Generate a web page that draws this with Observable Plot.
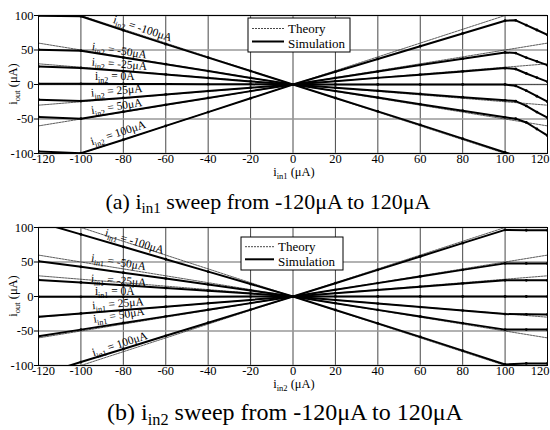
<!DOCTYPE html>
<html><head><meta charset="utf-8">
<script src="https://cdn.jsdelivr.net/npm/d3@7"></script>
<script src="https://cdn.jsdelivr.net/npm/@observablehq/plot@0.6"></script>
<style>
body{margin:0;background:#fff;}
#wrap{position:relative;width:550px;height:430px;overflow:hidden;font-family:"Liberation Serif","DejaVu Serif",serif;color:#000;}
.panel{position:absolute;left:0;}
.cap{position:absolute;white-space:nowrap;line-height:1;transform:translateX(-50%);font-family:"Liberation Serif","DejaVu Serif",serif;}
.cap .sb{position:relative;top:0.3em;font-size:0.68em;}
</style></head><body><div id="wrap"></div>
<script>
// ---------- data ----------
const xTicks = [-120,-100,-80,-60,-40,-20,0,20,40,60,80,100,120];
const yTicks = [-100,-50,0,50,100];
const theoryX = [-120, 120];
const theoryEnds = [[120,-120],[60,-60],[30,-30],[0,0],[-30,30],[-60,60],[-120,120]];
const params = [-100,-50,-25,0,25,50,100];
const paramText = ["-100μA","-50μA","-25μA","0A","25μA","50μA","100μA"];

// panel (a): i_in1 sweep, one curve per i_in2
const xA = [-120,-100,-80,-60,-40,-20,0,20,40,60,80,100,105,110,115,120];
const a_n100 = [99.5,99,78.5,58.5,39,19.5,0,-19.5,-39,-58.5,-78.5,-98.5,-103,-107,-111,-115];
const a_n50  = [50.5,49,39,29.5,19.5,9.5,0,-9.5,-19,-28.5,-38,-47.5,-49.5,-55,-64.5,-74];
const a_n25  = [26,24,19.5,14.5,9.5,4.5,0,-4.6,-9.2,-13.8,-18.4,-23,-24,-31,-40,-48];
const a_0    = [1,1,0.8,0.6,0.4,0.2,0,0,0,0,0,0,-2,-9,-17,-25];
const a_25   = [-22,-24,-19.5,-14.5,-9.5,-4.6,0,4.8,9.6,14.3,19,23.8,22.5,16,10,4];
const a_50   = [-47,-49.5,-39.5,-29.5,-19.5,-9.6,0,9.4,18.8,28.1,37.4,46.5,45.5,39,33.5,28];
const a_100  = [-97,-99.5,-80,-60,-40,-20,0,18.5,37,55.5,74,92.5,93,86,79,72];

// panel (b): i_in2 sweep, one curve per i_in1
const xB = [-120,-100,-80,-60,-40,-20,0,20,40,60,80,100,110,120];
const b_n100 = [108,90,72,54,36,18,0,-19.5,-39,-58.5,-78.5,-98.5,-97,-97];
const b_n50  = [51,43,34.5,26,17.5,8.8,0,-9.7,-19.4,-29,-38.6,-48,-48,-48];
const b_n25  = [24,20.3,16.3,12.3,8.3,4.2,0,-5.1,-10.2,-15.3,-20.4,-25.5,-25.8,-26];
const b_0    = [-0.5,-0.5,-0.4,-0.3,-0.2,-0.1,0,0,0,0,0,0,0,0];
const b_25   = [-29.5,-24.6,-19.7,-14.8,-9.8,-4.9,0,4.8,9.5,14.2,18.9,23.5,23.5,23.5];
const b_50   = [-57.5,-48,-38.4,-28.8,-19.2,-9.6,0,9.7,19.4,29,38.6,48,48,48];
const b_100  = [-114,-95,-76,-57,-38,-19,0,19.3,38.6,58,77.3,96.5,96,96];

// curve label anchors (data units) and angles
const labA_x = [-70.6,-81.6,-81.6,-83.8,-82.9,-82.9,-82.3];
const labA_y = [80.7,48.8,29.5,11.2,-9.1,-31.9,-70.4];
const labA_r = [18,9,4.7,0,-4.7,-9,-18];
const labB_x = [-74.4,-81.9,-81.9,-83.8,-82.3,-81.9,-81.5];
const labB_y = [79.6,49.4,23,7.2,-10.5,-27.3,-69];
const labB_r = [17,9,4.5,0,-4.5,-9,-18];

// ---------- drawing ----------
const wrap = document.getElementById("wrap");
const FONT = "'Liberation Serif','DejaVu Serif',serif";

function subText(sel, main, sub, rest, subSize, dy) {
  sel.append("tspan").text(main);
  sel.append("tspan").attr("font-size", subSize).attr("dy", dy).text(sub);
  sel.append("tspan").attr("dy", -dy).text(rest);
}

function panel(opts) {
  const {xs, series, subName, xSub, labX, labY, labR, top, legend} = opts;
  const sim = [];
  series.forEach((vals, k) => vals.forEach((v, i) => sim.push({x: xs[i], y: v, s: params[k]})));
  const theory = [];
  params.forEach((p, k) => theoryX.forEach((x, i) => theory.push({x, y: theoryEnds[k][i], s: p})));

  const chart = Plot.plot({
    width: 550, height: 182,
    marginLeft: 38, marginRight: 3, marginTop: 15, marginBottom: 29,
    style: {fontFamily: FONT, fontSize: "12.5px", color: "#000", background: "transparent"},
    x: {domain: [-120, 120], ticks: xTicks, tickSize: 0, tickPadding: 1, label: null, tickFormat: d => String(d)},
    y: {domain: [-100, 100], ticks: yTicks, tickSize: 4, tickPadding: 1, label: null, tickFormat: d => String(d)},
    marks: [
      Plot.ruleX(xTicks, {stroke: "#333", strokeWidth: 0.9}),
      Plot.ruleY(yTicks, {stroke: "#999", strokeWidth: 1.3}),
      Plot.line(theory, {x: "x", y: "y", z: "s", stroke: "#333", strokeWidth: 0.8, strokeDasharray: "2,1", clip: true}),
      Plot.line(sim, {x: "x", y: "y", z: "s", stroke: "#000", strokeWidth: 2, clip: true}),
      Plot.dot(sim, {x: "x", y: "y", r: 1.4, fill: "#000", stroke: "none", clip: true}),
      Plot.frame({stroke: "#000", strokeWidth: 1})
    ]
  });
  chart.classList.add("panel");
  chart.style.top = top + "px";
  chart.style.fontFamily = FONT;
  wrap.appendChild(chart);

  const svg = d3.select(chart);
  svg.attr("font-family", FONT);
  svg.selectAll("text").style("font-family", FONT);

  // keep the end tick labels inside the picture, as in the reference
  svg.selectAll('g[aria-label="x-axis tick label"] text').each(function () {
    const t = d3.select(this);
    const txt = t.text();
    if (txt === "120") t.attr("text-anchor", "end").attr("dx", 2);
    if (txt === "-120") t.attr("dx", 5);
  });

  const sx = chart.scale("x"), sy = chart.scale("y");
  const g = svg.append("g").style("font-family", FONT).attr("fill", "#000");

  // axis titles
  const yl = g.append("text").attr("transform", "translate(17,84) rotate(-90)")
    .attr("text-anchor", "middle").attr("font-size", 12.5);
  subText(yl, "i", "out", " (μA)", 8.5, 3);
  const xl = g.append("text").attr("x", 294).attr("y", 176)
    .attr("text-anchor", "middle").attr("font-size", 12.5);
  subText(xl, "i", xSub, " (μA)", 8.5, 3);

  // curve labels
  params.forEach((p, k) => {
    const t = g.append("text")
      .attr("transform", `translate(${sx.apply(labX[k])},${sy.apply(labY[k])}) rotate(${labR[k]})`)
      .attr("text-anchor", "middle").attr("dy", "0.35em").attr("font-size", 11.5);
    subText(t, "i", subName, " = " + paramText[k], 8, 3);
  });

  // legend
  const L = legend;
  const lg = g.append("g").attr("text-anchor", "start");
  lg.append("rect").attr("x", L.x).attr("y", L.y).attr("width", L.w).attr("height", L.h)
    .attr("fill", "#fff").attr("stroke", "#000").attr("stroke-width", 1);
  lg.append("line").attr("x1", L.lx1).attr("x2", L.lx2).attr("y1", L.ty).attr("y2", L.ty)
    .attr("stroke", "#333").attr("stroke-width", 0.9).attr("stroke-dasharray", "2,1");
  lg.append("line").attr("x1", L.lx1).attr("x2", L.lx2).attr("y1", L.sy).attr("y2", L.sy)
    .attr("stroke", "#000").attr("stroke-width", 2);
  lg.append("text").attr("x", L.tx).attr("y", L.tb).attr("text-anchor", "start").attr("font-size", 13).text("Theory");
  lg.append("text").attr("x", L.tx).attr("y", L.sb).attr("text-anchor", "start").attr("font-size", 13).text("Simulation");
}

panel({
  xs: xA, series: [a_n100, a_n50, a_n25, a_0, a_25, a_50, a_100],
  subName: "in2", xSub: "in1", labX: labA_x, labY: labA_y, labR: labA_r, top: 0,
  legend: {x: 248, y: 18, w: 102, h: 34, lx1: 252, lx2: 284, ty: 28.5, sy: 41.5, tx: 288, tb: 33, sb: 47.5}
});
panel({
  xs: xB, series: [b_n100, b_n50, b_n25, b_0, b_25, b_50, b_100],
  subName: "in1", xSub: "in2", labX: labB_x, labY: labB_y, labR: labB_r, top: 212,
  legend: {x: 241, y: 25, w: 102, h: 33, lx1: 245, lx2: 274, ty: 34.7, sy: 47.3, tx: 278, tb: 39, sb: 53.5}
});

// captions
function caption(label, sub, left, top, size) {
  const d = document.createElement("div");
  d.className = "cap";
  d.style.left = left + "px";
  d.style.top = top + "px";
  d.style.fontSize = size + "px";
  d.innerHTML = `${label} i<span class="sb">${sub}</span> sweep from -120μA to 120μA`;
  wrap.appendChild(d);
}
caption("(a)", "in1", 268, 191, 22);
caption("(b)", "in2", 285, 400, 24);
</script>
</body></html>
